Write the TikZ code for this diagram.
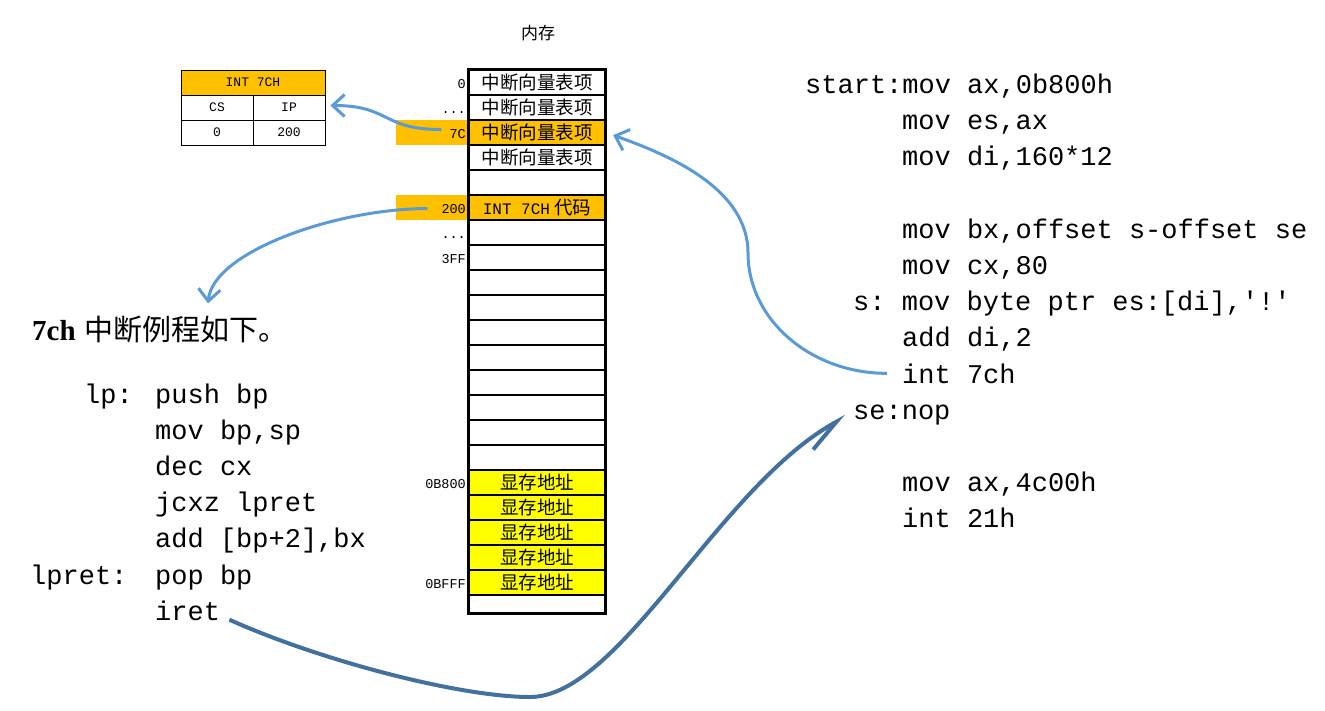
\documentclass[tikz,border=0pt]{standalone}
\usepackage{fontspec}
\setmainfont{Liberation Serif}
\newfontfamily\cjk{Noto Sans CJK SC}
\newfontfamily\codefont{Liberation Mono}[Ligatures=TeXOff]
\usetikzlibrary{
  positioning,
  arrows.meta
}
\definecolor{orangec}{HTML}{FFC000}
\definecolor{yellowc}{HTML}{FFFF00}
\definecolor{lblue}{HTML}{5B9BD5}
\definecolor{dblue}{HTML}{41719C}
\newcommand\vecitem{中断向量表项}
\newcommand\vram{显存地址}
\newcommand\intcode{{\codefont\fontsize{16}{16}\selectfont INT 7CH} 代码}
\tikzset{
  cell/.style={draw,line width=1.2pt,minimum width=136pt,minimum height=25pt,
    inner sep=0pt,font=\cjk\fontsize{18.5}{18.5}\selectfont},
  band/.style={fill=orangec,minimum width=72pt,minimum height=25pt,inner sep=0pt},
  addr/.style={font=\codefont\fontsize{13.5}{13.5}\selectfont,inner sep=0pt,anchor=base east},
  tcell/.style={draw,line width=0.8pt,minimum width=72pt,minimum height=25pt,
    inner sep=0pt,font=\codefont\fontsize{13}{13}\selectfont},
  code/.style={font=\codefont\fontsize{27}{27}\selectfont\frenchspacing,inner sep=0pt,
    anchor=base west},
  lcurve/.style={draw=lblue,line width=3pt,-{Straight Barb[length=12pt,width=22pt]}},
  dcurve/.style={draw=dblue,line width=4pt,-{Straight Barb[right,length=34pt,width=26pt]}}
}

\begin{document}
\begin{tikzpicture}[x=1pt,y=-1pt]
\useasboundingbox (0,0) rectangle (1325,710);

% memory column
\node[font=\cjk\fontsize{17}{17}\selectfont] (mem) at (538,33) {内存};
\foreach \i/\txt/\col in {1/\vecitem/white,2/\vecitem/white,3/\vecitem/orangec,
  4/\vecitem/white,5/{}/white,6/\intcode/orangec,7/{}/white,8/{}/white,
  9/{}/white,10/{}/white,11/{}/white,12/{}/white,13/{}/white,14/{}/white,
  15/{}/white,16/{}/white,17/\vram/yellowc,18/\vram/yellowc,19/\vram/yellowc,
  20/\vram/yellowc,21/\vram/yellowc}
  \node[cell,fill=\col] (m\i) at (537,57.5+25*\i) {\txt};
\node[cell,minimum height=18pt] (m22) at (537,604) {};
\node[band,left=0pt of m3] (b7c) {};
\node[band,left=0pt of m6] (b200) {};
\draw[line width=2.5pt] (m1.north west) rectangle (m22.south east);

% addresses
\node[addr] (a0) at (466,88) {0};
\node[addr] (a1) at (466,113.5) {...};
\node[addr] (a7c) at (466,138) {7C};
\node[addr] (a200) at (466,213) {200};
\node[addr] (a2) at (466,238) {...};
\node[addr] (a3ff) at (466,263) {3FF};
\node[addr] (ab800) at (466,488.5) {0B800};
\node[addr] (abfff) at (466,588) {0BFFF};

% vector entry
\node[tcell,fill=orangec,minimum width=144pt] (thead) at (253,82.5) {INT 7CH};
\node[tcell] (tcs) at (217,107.5) {CS};
\node[tcell] (tip) at (289,107.5) {IP};
\node[tcell] (tzero) at (217,132.5) {0};
\node[tcell] (toff) at (289,132.5) {200};

% handler
\node[anchor=base west,inner sep=0pt,font=\fontsize{29}{29}\selectfont] (title)
  at (32,340) {\textbf{7ch}\hspace{9pt}{\cjk 中断例程如下。}};
\node[code] (llp) at (84,403) {lp:};
\node[code] (l1) at (155,403) {push bp};
\node[code] (l2) at (155,439.2) {mov bp,sp};
\node[code] (l3) at (155,475.4) {dec cx};
\node[code] (l4) at (155,511.6) {jcxz lpret};
\node[code] (l5) at (155,547.8) {add [bp+2],bx};
\node[code] (llpret) at (30,584) {lpret:};
\node[code] (l6) at (155,584) {pop bp};
\node[code] (liret) at (155,620.2) {iret};

% main program
\node[code] (r1) at (805,93) {start:mov ax,0b800h};
\node[code] (r2) at (902,129.5) {mov es,ax};
\node[code] (r3) at (902,165.7) {mov di,160*12};
\node[code] (r4) at (902,238) {mov bx,offset s-offset se};
\node[code] (r5) at (902,274.3) {mov cx,80};
\node[code] (r6) at (853,310.5) {s: mov byte ptr es:[di],'!'};
\node[code] (r7) at (902,346.7) {add di,2};
\node[code] (rint) at (902,383) {int 7ch};
\node[code] (rse) at (853,419) {se:nop};
\node[code] (r10) at (902,491.5) {mov ax,4c00h};
\node[code] (r11) at (902,527.7) {int 21h};

% arrows
\draw[lcurve,shorten <=8pt] ([yshift=4pt]a7c.west) .. controls +(-68,0) and +(60,0)
  .. ([xshift=5pt,yshift=2pt]tip.east);
\draw[lcurve,shorten <=14pt] (a200.west) .. controls +(-104,0) and +(5,-52)
  .. ([xshift=176pt,yshift=12pt]title.north west);
\draw[lcurve,shorten <=15pt,shorten >=8pt] (rint.west) .. controls +(-92,0) and +(0,66)
  .. (748,253) .. controls +(0,-65) and +(62,22) .. (m3.east);
\draw[dcurve,shorten <=10pt,shorten >=8pt] ([yshift=-5pt]liret.east)
  .. controls +(100,45) and +(-70,0) .. (530,697)
  .. controls +(90,0) and +(-135,75) .. ([yshift=2pt]rse.west);
\end{tikzpicture}
\end{document}
